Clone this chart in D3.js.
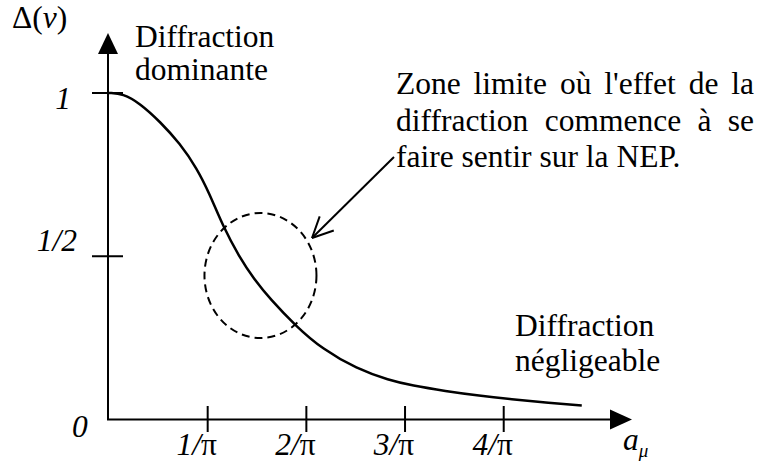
<!DOCTYPE html>
<html>
<head>
<meta charset="utf-8">
<script src="https://cdn.jsdelivr.net/npm/d3@7"></script>
</head>
<body style="margin:0;background:#fff">
<svg id="chart" width="758" height="463"></svg>
<script>
// Δ(ν) as a function of a_μ (a_μ expressed in real units, ticks at k/π)
const aMu = [0, 0.045, 0.099, 0.166, 0.229, 0.283, 0.325, 0.366, 0.420, 0.468,
             0.519, 0.605, 0.688, 0.799, 0.904, 0.977, 1.085, 1.194, 1.299, 1.407, 1.525];
const delta = [1.0, 0.998, 0.969, 0.911, 0.845, 0.770, 0.690, 0.595, 0.498, 0.430,
               0.370, 0.284, 0.216, 0.155, 0.120, 0.104, 0.087, 0.073, 0.062, 0.052, 0.043];

const xTickValues = [1, 2, 3, 4].map(k => k / Math.PI);
const xTickNumerators = ["1", "2", "3", "4"];
const yTickValues = [1, 0.5];
const yTickLabels = ["1", "1/2"];

// Zone of interest (centre in data units)
const zoneCentre = { a: 1.535 / Math.PI, d: 0.441 };

const FONT = "'Liberation Serif'";
const FS = 31.5;

const svg = d3.select("#chart");
const txt = (sel) => sel.append("text").attr("font-family", FONT).attr("font-size", FS).attr("fill", "#000");

const x = d3.scaleLinear().domain([0, 5.3 / Math.PI]).range([109, 632]);
const y = d3.scaleLinear().domain([0, 1]).range([419.5, 93]);

const x0 = 108, y0 = y(0);

// Axes
svg.append("line").attr("x1", x0).attr("y1", y0).attr("x2", x0).attr("y2", 50)
  .attr("stroke", "#000").attr("stroke-width", 2);
svg.append("line").attr("x1", x0 - 1).attr("y1", y0).attr("x2", 612).attr("y2", y0)
  .attr("stroke", "#000").attr("stroke-width", 2);
svg.append("path").attr("d", `M${x0},33 L${x0 - 10},54 L${x0 + 10},54 Z`).attr("fill", "#000");
svg.append("path").attr("d", `M632,${y0} L610,${y0 - 10} L610,${y0 + 10} Z`).attr("fill", "#000");

// X ticks
xTickValues.forEach((v, i) => {
  svg.append("line").attr("x1", x(v)).attr("x2", x(v)).attr("y1", y0 - 13.5).attr("y2", y0 + 12.5)
    .attr("stroke", "#000").attr("stroke-width", 2);
  const t = txt(svg).attr("x", x(v) - 11).attr("y", 455).attr("text-anchor", "middle");
  t.append("tspan").attr("font-style", "italic").text(xTickNumerators[i] + "/");
  t.append("tspan").text("π");
});

// Y ticks
yTickValues.forEach((v, i) => {
  svg.append("line").attr("x1", x0 - 16).attr("x2", x0 + 15).attr("y1", y(v)).attr("y2", y(v))
    .attr("stroke", "#000").attr("stroke-width", 2);
  txt(svg).attr("x", i === 0 ? 71 : 77).attr("y", y(v) + (i === 0 ? 16 : -5))
    .attr("text-anchor", "end").attr("font-style", "italic")
    .text(yTickLabels[i]);
});
txt(svg).attr("x", 72).attr("y", 437).attr("font-style", "italic").text("0");

// Axis titles
const yt = txt(svg).attr("x", 12).attr("y", 28);
yt.append("tspan").text("Δ(");
yt.append("tspan").attr("font-style", "italic").text("ν");
yt.append("tspan").text(")");

const xtl = txt(svg).attr("x", 623).attr("y", 450).attr("font-style", "italic");
xtl.append("tspan").text("a");
xtl.append("tspan").attr("font-size", 19).attr("dy", 7).text("μ");

// Curve
const pts = aMu.map((a, i) => [a, delta[i]]);
svg.append("path").datum(pts)
  .attr("d", d3.line().x(d => x(d[0])).y(d => y(d[1])).curve(d3.curveBasis))
  .attr("fill", "none").attr("stroke", "#000").attr("stroke-width", 2.5);

// Dashed zone
svg.append("ellipse").attr("cx", x(zoneCentre.a)).attr("cy", y(zoneCentre.d))
  .attr("rx", 56).attr("ry", 62.5)
  .attr("fill", "none").attr("stroke", "#000").attr("stroke-width", 2)
  .attr("stroke-dasharray", "8,5");

// Pointer to the zone
const ax1 = 394, ay1 = 157, ax2 = 312, ay2 = 238;
svg.append("line").attr("x1", ax1).attr("y1", ay1).attr("x2", ax2).attr("y2", ay2)
  .attr("stroke", "#000").attr("stroke-width", 2);
const ang = Math.atan2(ay1 - ay2, ax1 - ax2);
[0.45, -0.45].forEach(off => {
  svg.append("line").attr("x1", ax2).attr("y1", ay2)
    .attr("x2", ax2 + 23 * Math.cos(ang + off)).attr("y2", ay2 + 23 * Math.sin(ang + off))
    .attr("stroke", "#000").attr("stroke-width", 2);
});

// Labels
const labelsTL = ["Diffraction", "dominante"];
labelsTL.forEach((s, i) => txt(svg).attr("x", 135).attr("y", 47 + i * 33).text(s));
const labelsBR = ["Diffraction", "négligeable"];
labelsBR.forEach((s, i) => txt(svg).attr("x", 515).attr("y", 336 + i * 35).text(s));

// Justified note
const note = ["Zone limite où l'effet de la", "diffraction commence à se", "faire sentir sur la NEP."];
const left = 396, right = 754;
note.forEach((line, i) => {
  const yy = 94 + i * 36.5;
  if (i === note.length - 1) {
    txt(svg).attr("x", left).attr("y", yy).text(line);
    return;
  }
  const words = line.split(" ");
  const nodes = words.map(w => txt(svg).attr("y", yy).text(w));
  const widths = nodes.map(n => n.node().getComputedTextLength());
  const gap = (right - left - d3.sum(widths)) / (words.length - 1);
  let cx = left;
  nodes.forEach((n, j) => { n.attr("x", cx); cx += widths[j] + gap; });
});
</script>
</body>
</html>
